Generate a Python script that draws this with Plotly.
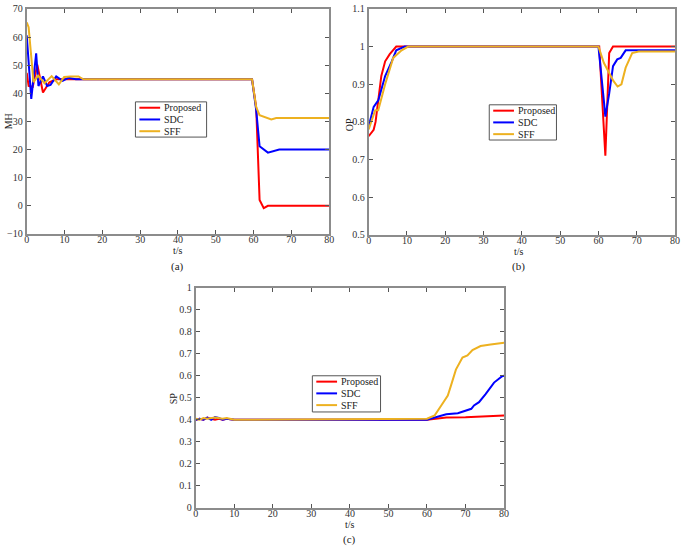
import plotly.graph_objects as go

# 数据 (a) MH
t_mh_prop = [0, 0.5, 1.6, 2.8, 4.3, 6, 7.8, 10, 59.6, 60.7, 61.6, 62.7, 63.8, 80]
mh_prop = [47.3, 42.6, 42.3, 50.2, 40.3, 43.9, 45, 45, 45, 35, 2.1, -0.85, 0, 0]
t_mh_sdc = [0, 1.2, 2.5, 3.1, 4.3, 5.4, 6.3, 7.8, 9.5, 11, 13, 59.6, 60.7, 61.6, 63.8, 66.8, 80]
mh_sdc = [60.6, 38, 54.2, 42.6, 46, 42.6, 43, 46, 44.4, 45.5, 45, 45, 34, 21.2, 18.9, 20, 20]
t_mh_sff = [0, 0.5, 1.8, 3.0, 4.7, 6.6, 8.5, 9.9, 11.6, 13.7, 15, 59.6, 60.7, 61.6, 64.7, 66, 80]
mh_sff = [65.2, 63.5, 44, 46.3, 43.6, 46.1, 43.2, 45.8, 46, 46, 45, 45, 35.1, 32.2, 30.7, 31.2, 31.2]

# 数据 (b) OP
t_op_prop = [0, 1.3, 1.8, 3.3, 4.3, 5.5, 7.2, 60.2, 61.8, 62.8, 63.8, 80]
op_prop = [0.762, 0.779, 0.80, 0.922, 0.961, 0.980, 1.0, 1.0, 0.71, 0.983, 1.0, 1.0]
t_op_sdc = [0, 1.3, 2.5, 4.3, 6, 7.2, 9.4, 60, 61.4, 61.8, 62.8, 63.8, 64.9, 65.8, 67.1, 80]
op_sdc = [0.788, 0.84, 0.857, 0.922, 0.96, 0.99, 1.0, 1.0, 0.857, 0.814, 0.875, 0.948, 0.966, 0.97, 0.99, 0.99]
t_op_sff = [0, 1.7, 2.5, 4.3, 6.4, 8.6, 10.3, 60, 61.4, 62.6, 63.9, 65, 66, 67.1, 68.8, 70.5, 80]
op_sff = [0.78, 0.831, 0.831, 0.90, 0.97, 0.99, 1.0, 1.0, 0.957, 0.935, 0.909, 0.894, 0.90, 0.944, 0.983, 0.987, 0.987]

# 数据 (c) SP
t_sp_prop = [0, 1, 2, 3, 4, 5, 6, 7, 8, 10, 60, 65, 70, 75, 78, 80]
sp_prop = [0.40, 0.405, 0.40, 0.41, 0.405, 0.40, 0.405, 0.40, 0.405, 0.40, 0.40, 0.41, 0.412, 0.415, 0.42, 0.42]
t_sp_sdc = [0, 1, 2, 3, 4, 5, 6, 7, 8, 10, 60, 62, 65, 68, 70, 71.5, 72.2, 73.5, 75.2, 77.4, 79.5, 80]
sp_sdc = [0.40, 0.405, 0.40, 0.41, 0.40, 0.412, 0.408, 0.40, 0.405, 0.40, 0.40, 0.41, 0.425, 0.43, 0.44, 0.45, 0.465, 0.48, 0.517, 0.569, 0.598, 0.60]
t_sp_sff = [0, 1, 2, 3, 5, 7, 8, 10, 60, 62, 63.7, 65.4, 66.2, 67.5, 69.2, 70.5, 71.8, 73.9, 76.5, 79.5, 80]
sp_sff = [0.405, 0.40, 0.408, 0.405, 0.41, 0.405, 0.408, 0.40, 0.405, 0.42, 0.465, 0.51, 0.554, 0.628, 0.683, 0.692, 0.717, 0.735, 0.742, 0.75, 0.75]

names = ["Proposed", "SDC", "SFF"]
colors = ["#ff0000", "#0000ff", "#edb120"]
FONT = "Liberation Serif"
W, H = 685, 551

panels = [
    ("x", "y", [(t_mh_prop, mh_prop), (t_mh_sdc, mh_sdc), (t_mh_sff, mh_sff)]),
    ("x2", "y2", [(t_op_prop, op_prop), (t_op_sdc, op_sdc), (t_op_sff, op_sff)]),
    ("x3", "y3", [(t_sp_prop, sp_prop), (t_sp_sdc, sp_sdc), (t_sp_sff, sp_sff)]),
]

fig = go.Figure()
for xa, ya, series in panels:
    for (tt, vv), nm, c in zip(series, names, colors):
        fig.add_trace(go.Scatter(x=tt, y=vv, mode="lines", name=nm, xaxis=xa, yaxis=ya,
                                 showlegend=False, line=dict(color=c, width=2)))

ax = dict(showline=True, linecolor="#8c8c8c", linewidth=2, mirror="ticks", ticks="inside",
          ticklen=4, tickcolor="#555", showgrid=False, zeroline=False,
          tickfont=dict(family=FONT, size=10, color="#333"))
axx = dict(ax, ticklabelstandoff=-5)


def dx(a, b):
    return [a / W, b / W]


def dy(top, bot):
    return [1 - bot / H, 1 - top / H]


fig.update_layout(
    width=W, height=H, margin=dict(l=0, r=0, t=0, b=0),
    paper_bgcolor="white", plot_bgcolor="white", showlegend=False,
    xaxis=dict(axx, domain=dx(24, 330), range=[0, 80], dtick=10, anchor="y"),
    yaxis=dict(ax, domain=dy(3, 233), range=[-10, 70], dtick=10, anchor="x"),
    xaxis2=dict(axx, domain=dx(370, 680), range=[0, 80], dtick=10, anchor="y2"),
    yaxis2=dict(ax, domain=dy(3, 234), range=[0.5, 1.1], dtick=0.1, anchor="x2"),
    xaxis3=dict(axx, domain=dx(195, 507), range=[0, 80], dtick=10, anchor="y3"),
    yaxis3=dict(ax, domain=dy(288, 513), range=[0, 1], dtick=0.1, anchor="x3"),
)

# 图例（手绘，贴近原图紧凑尺寸）
legend_boxes = [(134, 98, 206, 134), (492, 101, 560, 137), (313, 378, 382, 415)]
for (x0, y0, x1, y1) in legend_boxes:
    fig.add_shape(type="rect", xref="paper", yref="paper",
                  x0=x0 / W, x1=x1 / W, y0=1 - y0 / H, y1=1 - y1 / H,
                  line=dict(color="#555", width=1), fillcolor="white", layer="above")
    for k, (nm, c) in enumerate(zip(names, colors)):
        yy = y0 + 6 + 12 * k
        fig.add_shape(type="line", xref="paper", yref="paper",
                      x0=(x0 + 4) / W, x1=(x0 + 25) / W, y0=1 - yy / H, y1=1 - yy / H,
                      line=dict(color=c, width=2), layer="above")
        fig.add_annotation(x=(x0 + 27) / W, y=1 - yy / H, xref="paper", yref="paper",
                           text=nm, showarrow=False, xanchor="left", yanchor="middle",
                           font=dict(family=FONT, size=10, color="#222"))

txt = dict(family=FONT, size=10, color="#222")
notes = [
    (177, 250, "t/s", 0), (522, 251, "t/s", 0), (351, 530, "t/s", 0),
    (5, 118, "MH", -90), (350, 121, "OP", -90), (172, 401, "SP", -90),
]
for x, y, s, ang in notes:
    fig.add_annotation(x=x / W, y=1 - y / H, xref="paper", yref="paper", text=s,
                       showarrow=False, textangle=ang, font=txt,
                       xanchor="center", yanchor="middle")
for x, y, s in [(177, 266, "(a)"), (522, 266, "(b)"), (351, 545, "(c)")]:
    fig.add_annotation(x=x / W, y=1 - y / H, xref="paper", yref="paper", text=s,
                       showarrow=False, font=dict(family=FONT, size=11, color="#222"),
                       xanchor="center", yanchor="middle")

fig.write_html("out.html", config={"displayModeBar": False},
               post_script="document.body.style.margin='0px';document.body.style.overflow='hidden';")
